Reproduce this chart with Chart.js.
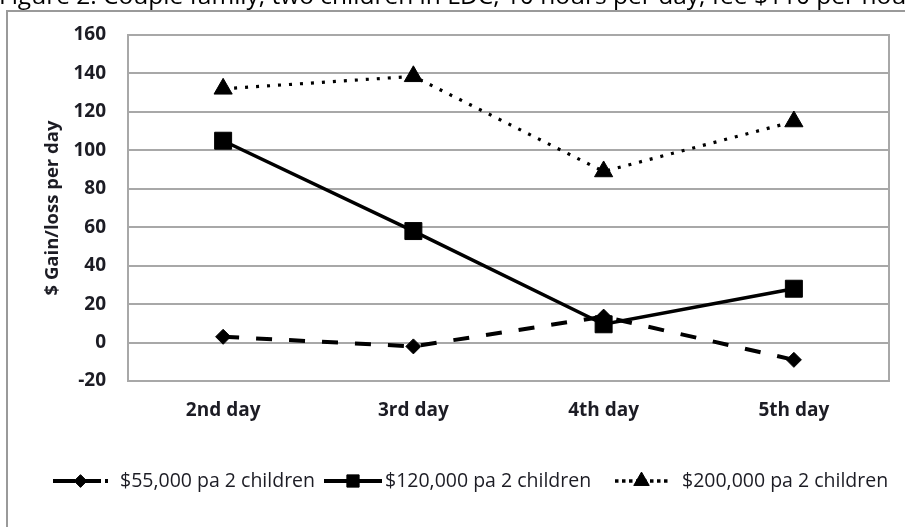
<!DOCTYPE html>
<html>
<head>
<meta charset="utf-8">
<script src="https://cdn.jsdelivr.net/npm/chart.js@4.4.1/dist/chart.umd.min.js"></script>
<style>
  html, body { margin: 0; padding: 0; background: #fff; }
  #wrap { width: 905px; height: 527px; }
</style>
</head>
<body>
<div id="wrap"><canvas id="c" width="905" height="527"></canvas></div>
<script>
// Categories and series (daily gain/loss in $)
const days = ['2nd day', '3rd day', '4th day', '5th day'];
const income55k = [3, -2, 13.5, -9];
const income120k = [105, 58, 9.5, 28];
const income200k = [132, 138.5, 89, 115];
const seriesNames = ['$55,000 pa 2 children', '$120,000 pa 2 children', '$200,000 pa 2 children'];
const yMin = -20, yMax = 160, yStep = 20;
const captionText = 'Figure 2: Couple family, two children in LDC, 10 hours per day, fee $110 per hour';

const FONT = "'Open Sans', 'DejaVu Sans', sans-serif";
const TEXT = '#1c1c24';

// Page frame and the caption above it
const framePlugin = {
  id: 'frame',
  beforeDraw(chart) {
    const ctx = chart.ctx;
    ctx.save();
    ctx.fillStyle = '#fff';
    ctx.fillRect(0, 0, chart.width, chart.height);
    ctx.fillStyle = '#000';
    ctx.font = '24.5px ' + FONT;
    ctx.textBaseline = 'alphabetic';
    ctx.textAlign = 'left';
    ctx.fillText(captionText, -1, 4);
    ctx.strokeStyle = '#9a9a9a';
    ctx.lineWidth = 2;
    ctx.beginPath();
    ctx.moveTo(7, chart.height + 5);
    ctx.lineTo(7, 11);
    ctx.lineTo(chart.width + 5, 11);
    ctx.stroke();
    ctx.restore();
  },
  beforeDatasetsDraw(chart) {
    const {ctx, chartArea: a} = chart;
    ctx.save();
    ctx.strokeStyle = '#a8a8a8';
    ctx.lineWidth = 2;
    ctx.strokeRect(a.left, a.top, a.right - a.left, a.bottom - a.top);
    ctx.restore();
  }
};

// Legend drawn as line samples with markers, like the plotted series
const legendPlugin = {
  id: 'lineLegend',
  afterDraw(chart) {
    const ctx = chart.ctx;
    const y = 481;
    const items = [
      {x0: 53, x1: 108, tx: 120, dash: [22, 4]},
      {x0: 324, x1: 382, tx: 385, dash: []},
      {x0: 615, x1: 668, tx: 682, dash: [3.5, 3.5]}
    ];
    chart.data.datasets.forEach((ds, i) => {
      const it = items[i];
      ctx.save();
      ctx.strokeStyle = ds.borderColor;
      ctx.lineWidth = i === 2 ? 3.5 : 4;
      ctx.setLineDash(it.dash);
      ctx.beginPath();
      ctx.moveTo(it.x0, y);
      ctx.lineTo(it.x1, y);
      ctx.stroke();
      ctx.setLineDash([]);
      ctx.fillStyle = ds.pointBackgroundColor;
      ctx.strokeStyle = ds.pointBorderColor;
      ctx.lineWidth = 1;
      Chart.helpers.drawPoint(ctx, {
        pointStyle: ds.pointStyle,
        radius: ds.pointRadius * (i === 1 ? 0.72 : 0.85),
        rotation: 0,
        borderWidth: 1
      }, (it.x0 + it.x1) / 2, y);
      ctx.fillStyle = TEXT;
      ctx.font = '19.5px ' + FONT;
      ctx.textBaseline = 'middle';
      ctx.textAlign = 'left';
      ctx.fillText(ds.label, it.tx, y);
      ctx.restore();
    });
  }
};

new Chart(document.getElementById('c'), {
  type: 'line',
  data: {
    labels: days,
    datasets: [
      {
        label: seriesNames[0],
        data: income55k,
        borderColor: '#000',
        borderWidth: 4,
        borderDash: [16, 17],
        pointStyle: 'rectRot',
        pointRadius: 7.5,
        pointBackgroundColor: '#000',
        pointBorderColor: '#000',
        pointBorderWidth: 1,
        tension: 0
      },
      {
        label: seriesNames[1],
        data: income120k,
        borderColor: '#000',
        borderWidth: 3.5,
        pointStyle: 'rect',
        pointRadius: 12,
        pointBackgroundColor: '#000',
        pointBorderColor: '#000',
        pointBorderWidth: 1,
        tension: 0
      },
      {
        label: seriesNames[2],
        data: income200k,
        borderColor: '#000',
        borderWidth: 3.2,
        borderDash: [3, 8],
        pointStyle: 'triangle',
        pointRadius: 10.5,
        pointBackgroundColor: '#000',
        pointBorderColor: '#000',
        pointBorderWidth: 1,
        tension: 0
      }
    ]
  },
  options: {
    responsive: false,
    animation: false,
    devicePixelRatio: 1,
    layout: { padding: { top: 35, right: 16, bottom: 0, left: 0 } },
    plugins: {
      legend: { display: false },
      tooltip: { enabled: false },
      title: { display: false }
    },
    scales: {
      x: {
        offset: true,
        grid: { display: false, drawTicks: false },
        border: { display: false },
        ticks: {
          padding: 18,
          color: TEXT,
          font: { family: FONT, size: 19, weight: 'bold' },
          maxRotation: 0
        },
        afterFit(scale) { scale.height = 146; }
      },
      y: {
        min: yMin,
        max: yMax,
        grid: { color: '#a8a8a8', lineWidth: 2, drawTicks: false },
        border: { display: false },
        ticks: {
          stepSize: yStep,
          padding: 22,
          color: TEXT,
          font: { family: FONT, size: 19, weight: 'bold' }
        },
        title: {
          display: true,
          text: '$ Gain/loss per day',
          color: TEXT,
          font: { family: FONT, size: 18.5, weight: 'bold' },
          padding: { top: 42, bottom: 0 }
        },
        afterFit(scale) { scale.width = 128; }
      }
    }
  },
  plugins: [framePlugin, legendPlugin]
});
</script>
</body>
</html>
